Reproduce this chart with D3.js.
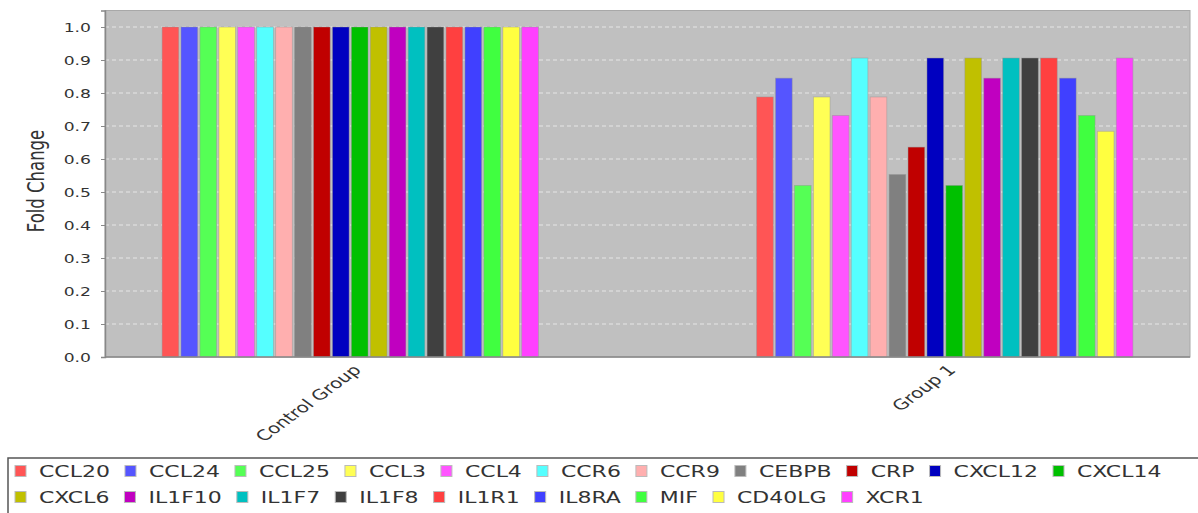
<!DOCTYPE html>
<html>
<head>
<meta charset="utf-8">
<script src="https://cdn.jsdelivr.net/npm/d3@7"></script>
<style>
  body { margin: 0; background: #fff; }
  text { font-family: "DejaVu Sans", sans-serif; fill: #333; }
</style>
</head>
<body>
<div id="chart"></div>
<script>
// data
const groups = ["Control Group", "Group 1"];
const genes = ["CCL20", "CCL24", "CCL25", "CCL3", "CCL4", "CCR6", "CCR9", "CEBPB", "CRP", "CXCL12",
               "CXCL14", "CXCL6", "IL1F10", "IL1F7", "IL1F8", "IL1R1", "IL8RA", "MIF", "CD40LG", "XCR1"];
const controlValues = [1, 1, 1, 1, 1, 1, 1, 1, 1, 1, 1, 1, 1, 1, 1, 1, 1, 1, 1, 1];
const group1Values = [0.788, 0.845, 0.52, 0.788, 0.732, 0.906, 0.788, 0.553, 0.636, 0.906,
                      0.52, 0.906, 0.845, 0.906, 0.906, 0.906, 0.845, 0.732, 0.684, 0.906];
const geneColors = ["#FF5555", "#5555FF", "#55FF55", "#FFFF55", "#FF55FF", "#55FFFF", "#FFAFAF", "#808080", "#C00000", "#0000C0",
                    "#00C000", "#C0C000", "#C000C0", "#00C0C0", "#404040", "#FF4040", "#4040FF", "#40FF40", "#FFFF40", "#FF40FF"];
const yTicks = [0, 0.1, 0.2, 0.3, 0.4, 0.5, 0.6, 0.7, 0.8, 0.9, 1.0];

const valuesByGroup = { "Control Group": controlValues, "Group 1": group1Values };

// the original picture is stretched sideways, so text is widened too
const sx = 1.375;

const width = 1198, height = 513;
const plot = { left: 105, right: 1190, top: 10.5, bottom: 357 };

const svg = d3.select("#chart").append("svg")
    .attr("width", width)
    .attr("height", height);

// scales
const x0 = d3.scaleBand()
    .domain(groups)
    .range([plot.left, plot.right])
    .paddingInner(0.367)
    .paddingOuter(0.096);

const x1 = d3.scaleBand()
    .domain(genes)
    .range([0, x0.bandwidth()])
    .paddingInner(0.12);

const y = d3.scaleLinear()
    .domain([0, 1.05])
    .range([plot.bottom, plot.top]);

const color = d3.scaleOrdinal().domain(genes).range(geneColors);

// plot background
svg.append("rect")
    .attr("x", plot.left)
    .attr("y", plot.top)
    .attr("width", plot.right - plot.left)
    .attr("height", plot.bottom - plot.top)
    .attr("fill", "#C0C0C0")
    .attr("stroke", "#A8A8A8")
    .attr("stroke-width", 1);

// gridlines
svg.append("g")
    .selectAll("line")
    .data(yTicks.filter(d => d > 0))
    .join("line")
    .attr("x1", plot.left)
    .attr("x2", plot.right)
    .attr("y1", d => y(d))
    .attr("y2", d => y(d))
    .attr("stroke", "#E6E6E6")
    .attr("stroke-width", 1)
    .attr("stroke-dasharray", "4,3");

// bars
const groupG = svg.append("g")
    .selectAll("g")
    .data(groups)
    .join("g")
    .attr("transform", d => `translate(${x0(d)},0)`);

groupG.selectAll("rect")
    .data(g => genes.map((gene, i) => ({ gene: gene, value: valuesByGroup[g][i] })))
    .join("rect")
    .attr("x", d => x1(d.gene))
    .attr("y", d => y(d.value))
    .attr("width", x1.bandwidth())
    .attr("height", d => y(0) - y(d.value))
    .attr("fill", d => color(d.gene))
    .attr("stroke", "rgba(150,150,150,0.55)")
    .attr("stroke-width", 0.8);

// y axis
const yAxis = d3.axisLeft(y)
    .tickValues(yTicks)
    .tickSize(4)
    .tickPadding(10)
    .tickFormat(d3.format(".1f"));

const yAxisG = svg.append("g")
    .attr("transform", `translate(${plot.left},0)`)
    .call(yAxis);
yAxisG.select(".domain").attr("stroke", "#888").attr("stroke-width", 1.5);
yAxisG.selectAll(".tick line").attr("stroke", "#888");
yAxisG.selectAll(".tick text")
    .attr("font-size", 12.5)
    .attr("fill", "#333")
    .attr("transform", function() {
        const tx = +d3.select(this).attr("x");
        d3.select(this).attr("x", 0);
        return `translate(${tx},0) scale(${sx},1)`;
    });

// x axis line
svg.append("line")
    .attr("x1", plot.left)
    .attr("x2", plot.right)
    .attr("y1", plot.bottom)
    .attr("y2", plot.bottom)
    .attr("stroke", "#888")
    .attr("stroke-width", 1.5);

// y axis title
svg.append("text")
    .attr("transform", `translate(44,181) scale(${sx},1) rotate(-90)`)
    .attr("text-anchor", "middle")
    .attr("font-size", 16.5)
    .attr("fill", "#222")
    .text("Fold Change");

// category labels, rotated 45 degrees
svg.append("g")
    .selectAll("text")
    .data(groups)
    .join("text")
    .attr("transform", d => `translate(${x0(d) + x0.bandwidth() / 2 + 12},${plot.bottom + 14}) scale(${sx},1) rotate(-45)`)
    .attr("text-anchor", "end")
    .attr("font-size", 14.5)
    .attr("fill", "#222")
    .text(d => d);

// legend
const legend = { left: 8, top: 458, rowH: 26, maxRight: 1190 };
const legendG = svg.append("g");

legendG.append("rect")
    .attr("x", legend.left)
    .attr("y", legend.top)
    .attr("width", width + 10 - legend.left)
    .attr("height", 80)
    .attr("fill", "none")
    .attr("stroke", "#555")
    .attr("stroke-width", 1.5);

let lx = 15, row = 0;
genes.forEach((gene, i) => {
    const item = legendG.append("g");
    const t = item.append("text")
        .attr("font-size", 16)
        .attr("fill", "#333")
        .text(gene);
    const tw = t.node().getComputedTextLength() * sx;
    if (lx + 24 + tw > legend.maxRight) { row += 1; lx = 15; }
    const cy = legend.top + 13 + row * legend.rowH;
    item.append("rect")
        .attr("x", lx)
        .attr("y", cy - 5.5)
        .attr("width", 11)
        .attr("height", 11)
        .attr("fill", color(gene))
        .attr("stroke", "#BBB")
        .attr("stroke-width", 1);
    t.attr("transform", `translate(${lx + 24},${cy + 6}) scale(${sx},1)`);
    lx += 24 + tw + 15;
});
</script>
</body>
</html>
